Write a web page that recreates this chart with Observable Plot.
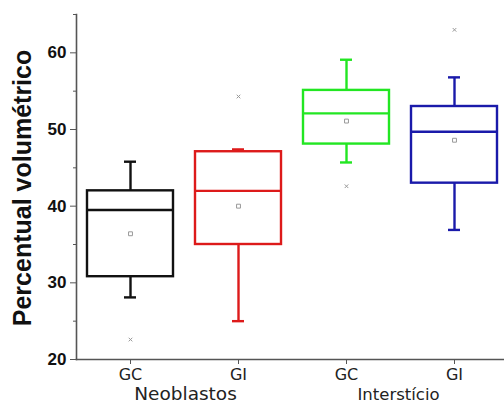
<!DOCTYPE html>
<html>
<head>
<meta charset="utf-8">
<script src="https://cdn.jsdelivr.net/npm/d3@7"></script>
<script src="https://cdn.jsdelivr.net/npm/@observablehq/plot@0.6"></script>
<style>
  html, body { margin: 0; padding: 0; background: #fff; }
  #chart { width: 504px; height: 407px; overflow: hidden; }
</style>
</head>
<body>
<div id="chart"></div>
<script>
// Categories (group - treatment)
const keys = ["N-GC", "N-GI", "I-GC", "I-GI"];
const tickNames = ["GC", "GI", "GC", "GI"];
const groupNames = ["Neoblastos", "Interstício"];
const yLabel = "Percentual volumétrico";
const colors = ["#111111", "#dd1a1a", "#22e622", "#1a1aaa"];

// Box statistics
const whiskerLow  = [28.1, 25.0, 45.7, 36.9];
const q1          = [30.8, 35.0, 48.1, 43.0];
const median      = [39.5, 42.0, 52.1, 49.7];
const q3          = [42.0, 47.1, 55.1, 53.0];
const whiskerHigh = [45.8, 47.4, 59.1, 56.8];
const mean        = [36.4, 40.0, 51.1, 48.6];
const outlierKey  = ["N-GC", "N-GI", "I-GC", "I-GI"];
const outlierVal  = [22.6, 54.3, 42.6, 63.0];

const yMajor = [20, 30, 40, 50, 60];
const yMinor = [25, 35, 45, 55, 65];

const boxes = keys.map((k, i) => ({
  key: k, color: colors[i],
  lo: whiskerLow[i], q1: q1[i], med: median[i], q3: q3[i], hi: whiskerHigh[i], mean: mean[i]
}));
const outliers = outlierKey.map((k, i) => ({key: k, v: outlierVal[i]}));
const groups = [
  {key: "N-GC", name: groupNames[0], dx: 55, size: 18.5},
  {key: "I-GC", name: groupNames[1], dx: 52, size: 16.5}
];

const chart = Plot.plot({
  width: 504,
  height: 407,
  marginLeft: 76,
  marginRight: 0,
  marginTop: 14,
  marginBottom: 48,
  style: {background: "#fff", overflow: "visible"},
  x: {type: "band", domain: keys, range: [76, 508], paddingInner: 0.2, paddingOuter: 0.1, axis: null},
  y: {domain: [20, 65], axis: null},
  marks: [
    // axes lines
    Plot.frame({anchor: "left", stroke: "#555", strokeWidth: 1.6}),
    Plot.frame({anchor: "bottom", stroke: "#555", strokeWidth: 1.6}),
    Plot.axisY({ticks: yMajor, tickSize: 6, tickPadding: 4, fontSize: 17, fontWeight: "bold",
      fontFamily: "Liberation Sans, Arial, sans-serif", stroke: "#555", fill: "#111", label: null}),
    Plot.axisY({ticks: yMinor, tickSize: 3, text: null, stroke: "#555", label: null}),
    Plot.axisX({tickSize: 5, tickPadding: 4, fontSize: 16, fontFamily: "DejaVu Sans, Verdana, sans-serif",
      stroke: "#555", fill: "#222", tickFormat: d => tickNames[keys.indexOf(d)], label: null}),
    // whiskers
    Plot.ruleX(boxes, {x: "key", y1: "lo", y2: "q1", stroke: "color", strokeWidth: 2.4}),
    Plot.ruleX(boxes, {x: "key", y1: "q3", y2: "hi", stroke: "color", strokeWidth: 2.4}),
    Plot.tickY(boxes, {x: "key", y: "lo", stroke: "color", strokeWidth: 2.4, insetLeft: 37, insetRight: 37}),
    Plot.tickY(boxes, {x: "key", y: "hi", stroke: "color", strokeWidth: 2.4, insetLeft: 37, insetRight: 37}),
    // box
    Plot.barY(boxes, {x: "key", y1: "q1", y2: "q3", fill: "none", stroke: "color", strokeWidth: 2.4}),
    Plot.tickY(boxes, {x: "key", y: "med", stroke: "color", strokeWidth: 2.4}),
    // mean
    Plot.dot(boxes, {x: "key", y: "mean", symbol: "square", r: 2.2, stroke: "#999", strokeWidth: 1, fill: "none"}),
    // outliers
    Plot.dot(outliers, {x: "key", y: "v", symbol: "times", r: 1.8, stroke: "#999", strokeWidth: 1}),
    // group labels
    ...groups.map(g => Plot.text([g], {x: "key", frameAnchor: "bottom", dx: g.dx, dy: 40, text: "name",
      fontSize: g.size, fontFamily: "DejaVu Sans, Verdana, sans-serif", fill: "#222"}))
  ]
});

// rotated y-axis title
d3.select(chart).append("text")
  .attr("transform", "translate(22,188) rotate(-90)")
  .attr("text-anchor", "middle")
  .attr("dominant-baseline", "central")
  .attr("font-family", "Liberation Sans, Arial, sans-serif")
  .attr("font-size", 25)
  .attr("font-weight", "bold")
  .attr("fill", "#111")
  .text(yLabel);

document.getElementById("chart").appendChild(chart);
</script>
</body>
</html>
